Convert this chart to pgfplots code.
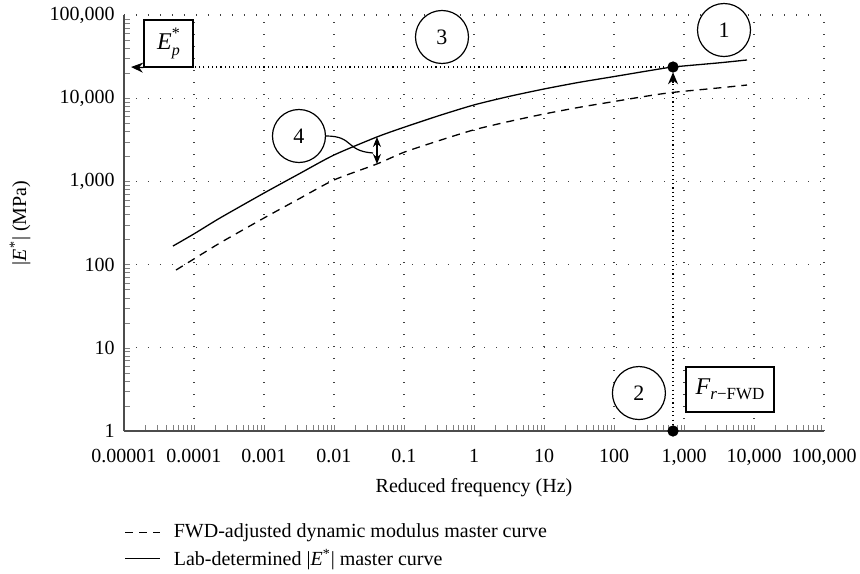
\documentclass[border=0pt]{standalone}
\usepackage{pgfplots}
\pgfplotsset{compat=1.18}
\usepackage{fontspec}
\setmainfont{Liberation Serif}
\usetikzlibrary{arrows.meta}
\begin{document}
\begin{tikzpicture}
\begin{axis}[
  scale only axis, width=350pt, height=208pt,
  xmode=log, ymode=log,
  xmin=1e-5, xmax=1e5, ymin=1, ymax=1e5,
  axis x line*=bottom, axis y line*=left,
  axis line style={black!70, line width=0.7pt, -},
  major tick length=0pt, minor tick num=0,
  grid=major,
  major grid style={black!75, line width=0.6pt, dash pattern=on 0.6pt off 5.4pt},
  xtick={1e-5,1e-4,1e-3,1e-2,1e-1,1,10,100,1000,10000,100000},
  xticklabels={0.00001,0.0001,0.001,0.01,0.1,1,10,100,{1,000},{10,000},{100,000}},
  ytick={1,10,100,1000,10000,100000},
  yticklabels={1,10,100,{1,000},{10,000},{100,000}},
  tick label style={font=\fontsize{10}{12}\selectfont},
  xticklabel style={yshift=-5.5pt},
  yticklabel style={xshift=-1.2pt},
  xlabel={Reduced frequency (Hz)},
  ylabel={|\textit{E}\textsuperscript{*}| (MPa)},
  label style={font=\fontsize{10}{12}\selectfont},
  xlabel style={at={(axis description cs:0.5,-0.137)}, anchor=center},
  ylabel style={at={(axis description cs:-0.1486,0.5)}, anchor=center},
  legend style={at={(axis description cs:0,-0.218)}, anchor=north west, draw=none, fill=none,
    font=\fontsize{10}{12}\selectfont, row sep=2pt, inner sep=0pt,
    nodes={inner sep=1pt},
    /tikz/every odd column/.append style={column sep=6pt}},
  legend cell align=left,
  clip=false,
]
\addplot[black, line width=0.65pt, dash pattern=on 4pt off 3pt, smooth, tension=0.4] coordinates {
(5.53e-5,86) (1e-4,117) (2.35e-4,182) (1e-3,363) (3.16e-3,617) (0.01,1040)
(0.041,1619) (0.1,2240) (0.316,3090) (1,4170) (3.16,5250) (10,6460)
(31.6,7760) (100,9120) (316,10700) (697,11750) (3160,13300) (7940,14400)};
\addlegendentry{FWD-adjusted dynamic modulus master curve}
\addplot[black, line width=0.65pt, smooth, tension=0.4] coordinates {
(5.0e-5,167) (1e-4,234) (2.35e-4,363) (1e-3,724) (3.16e-3,1230) (0.01,2076)
(0.041,3420) (0.1,4470) (0.316,6170) (1,8300) (3.16,10500) (10,12900)
(31.6,15500) (100,18200) (316,21400) (697,23700) (3160,26600) (7940,28800)};
\addlegendentry{Lab-determined |\textit{E}\textsuperscript{*}| master curve}
\addplot[forget plot, only marks, mark=*, mark size=2.6pt, black] coordinates {(697,23700) (697,1)};
% guide lines
\draw[black, line width=0.55pt, dash pattern=on 0.55pt off 1.6pt] (axis cs:697,23700) -- (axis cs:697,1);
\draw[black, line width=0.55pt, dash pattern=on 0.55pt off 1.6pt] (axis cs:697,23700) -- (axis cs:9.68e-5,23700);
% circles
\node[draw, circle, fill=white, line width=0.6pt, minimum size=26.5pt, inner sep=0pt, font=\fontsize{11}{13}\selectfont] at (axis cs:3728,66000) {1};
\node[draw, circle, fill=white, line width=0.6pt, minimum size=26.5pt, inner sep=0pt, font=\fontsize{11}{13}\selectfont] at (axis cs:227,2.86) {2};
\node[draw, circle, fill=white, line width=0.6pt, minimum size=26.5pt, inner sep=0pt, font=\fontsize{11}{13}\selectfont] at (axis cs:0.349,54400) {3};
\node[draw, circle, fill=white, line width=0.6pt, minimum size=26.5pt, inner sep=0pt, font=\fontsize{11}{13}\selectfont] (c4) at (axis cs:0.00316,3513) {4};
% boxes
\node[draw, fill=white, line width=0.6pt, minimum width=24.5pt, minimum height=23.5pt, inner sep=0pt, font=\fontsize{12}{14}\selectfont] (ep) at (axis cs:4.32e-5,45400) {\textit{E}\raisebox{5.5pt}{\makebox[0pt][l]{\fontsize{8}{9}\selectfont *}}\raisebox{-3pt}{\fontsize{8}{9}\selectfont\textit{p}}};
\node[draw, fill=white, line width=0.6pt, minimum width=44pt, minimum height=22.5pt, inner sep=0pt, font=\fontsize{12}{14}\selectfont] at (axis cs:4540,3.15) {\textit{F}\raisebox{-2.5pt}{\fontsize{8.5}{9}\selectfont\textit{r}−FWD}};
% arrows
\draw[line width=0.6pt, -{Stealth[length=6pt, width=5pt, inset=2pt]}] (ep.south west) -- (axis cs:1.26e-5,23700);
\draw[line width=0.6pt, -{Stealth[length=6pt, width=5pt]}] (axis cs:697,15200) -- (axis cs:697,20500);
\draw[line width=0.6pt, {Stealth[length=5pt, width=4pt]}-{Stealth[length=5pt, width=4pt]}] (axis cs:0.0411,3420) -- (axis cs:0.0411,1619);
\draw[line width=0.6pt] (c4.east) .. controls +(14pt,0pt) and +(-14pt,1pt) .. (axis cs:0.0361,2194);
\end{axis}
\pgfresetboundingbox
\path (-62pt,-71pt) rectangle (368pt,215.5pt);
\end{tikzpicture}
\end{document}
